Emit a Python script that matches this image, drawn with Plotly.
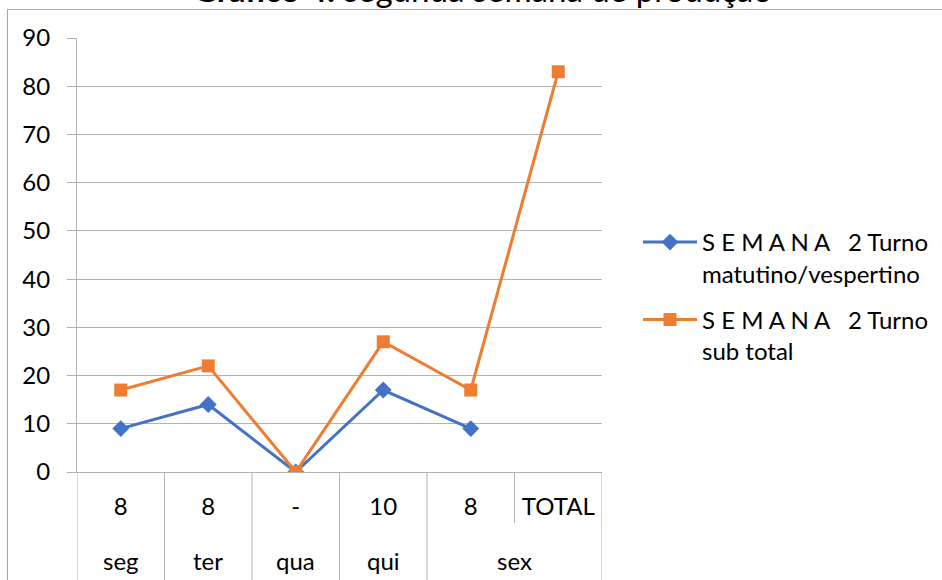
import plotly.graph_objects as go

days = ["seg", "ter", "qua", "qui", "sex"]
day_span = [1, 1, 1, 1, 2]
hours = ["8", "8", "-", "10", "8", "TOTAL"]
turno = [9, 14, 0, 17, 9, None]
subtotal = [17, 22, 0, 27, 17, 83]

idx = list(range(len(hours)))

nb = "\u00a0"
name1 = "S E M A N A".replace(" ", nb) + nb * 3 + "2 Turno<br>matutino/vespertino"
name2 = "S E M A N A".replace(" ", nb) + nb * 3 + "2 Turno<br>sub total"

FONT = "Lato"
FS = 24
GRID = "#b3b3b3"

# body margin is removed by post_script, so figure pixels == screen pixels
FW, FH = 942, 580
PL, PR, PT, PB = 77, 602, 38, 472  # plot area in screen pixels
L, T = PL, PT
R, B = FW - PR, FH - PB
W = PR - PL
H = PB - PT

def px(sx):
    return (sx - PL) / W

def py(sy):
    return (PB - sy) / H

fig = go.Figure()
fig.add_trace(go.Scatter(
    x=idx, y=turno, name=name1, mode="lines+markers",
    line=dict(color="#4472C4", width=3),
    marker=dict(symbol="diamond", size=13, color="#4472C4"),
    legendgroup="a",
))
fig.add_trace(go.Scatter(
    x=idx, y=subtotal, name=name2, mode="lines+markers",
    line=dict(color="#ED7D31", width=3),
    marker=dict(symbol="square", size=13, color="#ED7D31"),
    legendgroup="b",
))

# outer chart border (left and top edges visible)
fig.add_shape(type="path", xref="paper", yref="paper",
              path=f"M {px(7.5)},-1 L {px(7.5)},{py(9.5)} L 2,{py(9.5)}",
              line=dict(color="#a6a6a6", width=1))

# category dividers and outer-level labels
start = 0
bounds = [-0.5]
for d, s in zip(days, day_span):
    end = start + s
    bounds.append(end - 0.5)
    fig.add_annotation(text=d, xref="x", yref="paper", x=(start + end - 1) / 2,
                       y=py(560), xanchor="center", yanchor="middle", showarrow=False,
                       font=dict(family=FONT, size=FS, color="#000000"))
    for k in range(start + 1, end):
        fig.add_shape(type="line", xref="x", yref="paper", x0=k - 0.5, x1=k - 0.5,
                      y0=0, y1=py(523), line=dict(color=GRID, width=1))
    start = end
for b in bounds:
    fig.add_shape(type="line", xref="x", yref="paper", x0=b, x1=b,
                  y0=0, y1=-1, line=dict(color=GRID, width=1))

fig.add_annotation(text="<b>Gráfico 4:</b> segunda semana de produção",
                   xref="paper", yref="paper", x=px(482), y=py(11),
                   xanchor="center", yanchor="bottom", showarrow=False,
                   font=dict(family=FONT, size=33, color="#000000"))

fig.update_layout(
    width=FW, height=FH,
    margin=dict(l=L, r=R, t=T, b=B, autoexpand=False),
    paper_bgcolor="white", plot_bgcolor="white",
    font=dict(family=FONT, size=FS, color="#000000"),
    showlegend=True,
    legend=dict(x=px(638), y=py(220), xanchor="left", yanchor="top",
                valign="top", itemwidth=54, tracegroupgap=12,
                font=dict(family=FONT, size=FS, color="#000000"),
                bgcolor="rgba(0,0,0,0)"),
)
fig.update_yaxes(range=[0, 90], dtick=10, showgrid=True, gridcolor=GRID, gridwidth=1,
                 showline=True, linecolor=GRID, ticks="outside", ticklen=9,
                 tickcolor=GRID, zeroline=False, ticklabelstandoff=12, automargin=False,
                 tickfont=dict(family=FONT, size=FS, color="#000000"))
fig.update_xaxes(range=[-0.5, len(hours) - 0.5], tickvals=idx, ticktext=hours,
                 showgrid=False, zeroline=False, showline=True, linecolor=GRID,
                 ticks="", ticklabelstandoff=13, automargin=False,
                 tickfont=dict(family=FONT, size=FS, color="#000000"))

fig.write_html("out.html", config={"displayModeBar": False},
               post_script="document.body.style.margin='0';document.body.style.overflow='hidden';")
